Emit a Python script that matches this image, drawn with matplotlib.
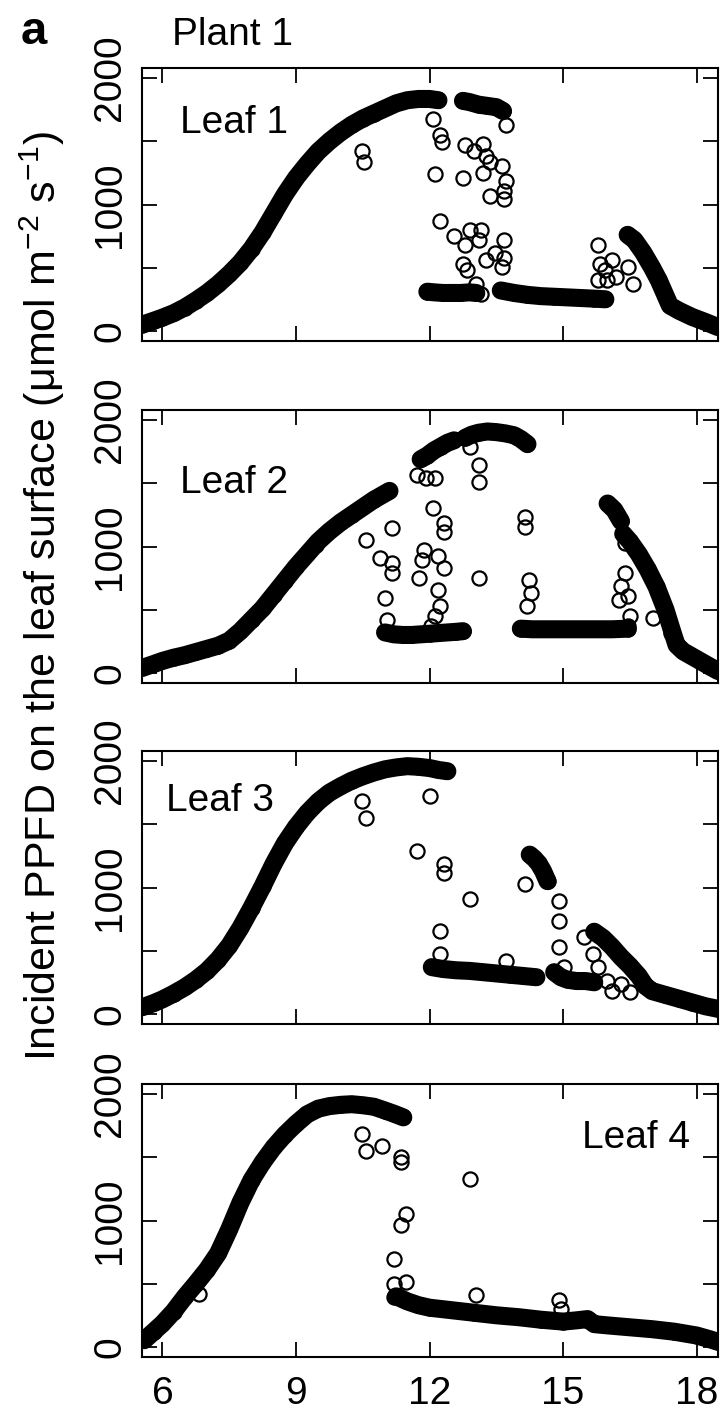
import numpy as np
import matplotlib
matplotlib.use("Agg")
import matplotlib.pyplot as plt

nan = np.nan

# ---- Leaf 1 ----
# dense runs of readings (nan separates runs)
leaf1_band_x = [5.55, 5.8, 6.0, 6.25, 6.5, 6.75, 7.0, 7.25, 7.5, 7.75, 8.0, 8.25, 8.5, 8.75,
                9.0, 9.25, 9.5, 9.75, 10.0, 10.25, 10.5, 10.75, 11.0, 11.25, 11.5, 11.75,
                12.0, 12.2, nan,
                12.75, 12.9, 13.1, 13.3, 13.5, 13.65, nan,
                11.95, 12.1, 12.3, 12.5, 12.7, 12.9, 13.05, nan,
                13.6, 13.9, 14.2, 14.5, 14.8, 15.1, 15.4, 15.7, 15.95, nan,
                16.45, 16.6, 16.8, 17.0, 17.15, 17.3, 17.4, 17.6, 17.9, 18.2, 18.48]
leaf1_band_y = [50, 80, 105, 140, 185, 240, 300, 370, 450, 540, 650, 780, 930, 1080,
                1210, 1320, 1420, 1500, 1570, 1630, 1680, 1720, 1760, 1800, 1825, 1835,
                1835, 1825, nan,
                1820, 1810, 1790, 1780, 1770, 1740, nan,
                310, 305, 300, 300, 300, 305, 300, nan,
                320, 300, 285, 275, 270, 265, 260, 255, 250, nan,
                760, 720, 620, 500, 400, 280, 200, 160, 110, 70, 30]
# isolated readings
leaf1_pts_x = [10.53, 10.48, 12.08, 12.23, 12.28, 12.13, 12.75, 12.80, 13.00, 13.21, 13.26,
               13.21, 13.36, 13.62, 13.72, 13.67, 13.36, 13.67, 12.23, 12.54, 12.90, 13.15,
               13.10, 12.80, 13.67, 13.46, 13.67, 13.26, 12.75, 12.85, 13.62, 13.05, 13.15,
               13.72, 15.78, 15.83, 15.94, 16.09, 15.99, 16.45, 16.56, 16.19, 15.78]
leaf1_pts_y = [1333, 1427, 1680, 1547, 1493, 1240, 1213, 1467, 1427, 1480, 1387,
               1253, 1333, 1307, 1187, 1107, 1067, 1040, 867, 747, 800, 800,
               720, 680, 720, 613, 573, 560, 533, 480, 507, 373, 293,
               1627, 680, 533, 480, 560, 400, 507, 373, 427, 400]

# ---- Leaf 2 ----
leaf2_band_x = [5.55, 5.8, 6.0, 6.25, 6.5, 6.75, 7.0, 7.25, 7.5, 7.75, 8.0, 8.25, 8.5, 8.75,
                9.0, 9.25, 9.5, 9.75, 10.0, 10.25, 10.5, 10.75, 11.0, 11.1, nan,
                11.8, 11.95, 12.1, 12.25, 12.4, 12.55, nan,
                12.8, 12.95, 13.1, 13.3, 13.5, 13.7, 13.9, 14.05, 14.2, nan,
                11.0, 11.2, 11.4, 11.6, 11.8, 12.0, 12.2, 12.4, 12.6, 12.75, nan,
                14.05, 14.3, 14.6, 14.9, 15.2, 15.5, 15.8, 16.1, 16.45, nan,
                16.0, 16.15, 16.3, nan,
                16.35, 16.5, 16.7, 16.9, 17.1, 17.3, 17.45, 17.55, 17.7, 17.9, 18.1, 18.3, 18.48]
leaf2_band_y = [40, 70, 95, 120, 140, 165, 190, 215, 255, 330, 420, 510, 620, 730,
                840, 940, 1040, 1120, 1190, 1250, 1310, 1370, 1420, 1440, nan,
                1690, 1720, 1760, 1790, 1820, 1840, nan,
                1860, 1885, 1900, 1910, 1905, 1895, 1880, 1850, 1810, nan,
                320, 305, 300, 300, 305, 310, 315, 320, 325, 330, nan,
                350, 345, 345, 345, 345, 345, 345, 345, 350, nan,
                1340, 1290, 1200, nan,
                1100, 1040, 940, 820, 680, 500, 330, 220, 170, 130, 90, 50, 15]
leaf2_pts_x = [9.45, 10.58, 11.15, 10.89, 11.15, 11.15, 10.99, 11.05, 11.72, 11.92, 12.13,
               12.08, 12.33, 12.33, 11.87, 11.82, 12.18, 12.33, 11.77, 12.18, 12.23, 12.13,
               12.03, 12.90, 13.11, 13.11, 13.11, 14.14, 14.14, 14.24, 14.29, 14.19, 16.40,
               16.40, 16.30, 16.25, 16.45, 16.50, 16.45, 17.02, 17.38, 17.43]
leaf2_pts_y = [1013, 1053, 1145, 908, 868, 789, 592, 421, 1566, 1539, 1539,
               1303, 1184, 1118, 974, 895, 921, 829, 750, 658, 526, 447,
               368, 1789, 1645, 1513, 750, 1237, 1158, 737, 632, 526, 1026,
               789, 684, 579, 605, 447, 368, 434, 395, 316]

# ---- Leaf 3 ----
leaf3_band_x = [5.55, 5.8, 6.0, 6.25, 6.5, 6.75, 7.0, 7.25, 7.5, 7.75, 8.0, 8.25, 8.5, 8.75,
                9.0, 9.25, 9.5, 9.75, 10.0, 10.25, 10.5, 10.75, 11.0, 11.25, 11.5, 11.75,
                12.0, 12.2, 12.4, nan,
                12.05, 12.3, 12.6, 12.9, 13.2, 13.5, 13.8, 14.1, 14.4, nan,
                14.25, 14.35, 14.45, 14.55, 14.65, nan,
                14.8, 14.95, 15.1, 15.3, 15.5, 15.7, nan,
                15.7, 15.9, 16.1, 16.3, 16.5, 16.7, 16.85, 17.0, 17.3, 17.6, 17.9, 18.2, 18.48]
leaf3_band_y = [53, 85, 115, 160, 210, 270, 340, 430, 540, 680, 840, 1010, 1190, 1350,
                1480, 1590, 1680, 1750, 1800, 1845, 1880, 1910, 1935, 1950, 1960, 1955,
                1945, 1930, 1920, nan,
                370, 355, 345, 340, 330, 320, 310, 300, 290, nan,
                1260, 1230, 1190, 1130, 1050, nan,
                330, 290, 270, 260, 260, 250, nan,
                650, 600, 530, 450, 380, 300, 220, 180, 150, 120, 90, 60, 40]
leaf3_pts_x = [10.48, 10.58, 12.02, 11.72, 12.33, 12.33, 12.90, 12.23, 12.23, 14.14, 13.72,
               14.91, 14.91, 14.91, 15.01, 15.47, 15.68, 15.78, 15.99, 16.09, 16.30, 16.50]
leaf3_pts_y = [1684, 1553, 1724, 1289, 1184, 1118, 908, 658, 474, 1026, 421,
               895, 737, 526, 368, 605, 474, 368, 263, 184, 237, 171]

# ---- Leaf 4 ----
leaf4_band_x = [5.59, 5.8, 6.0, 6.25, 6.5, 6.75, 7.0, 7.25, 7.5, 7.75, 8.0, 8.25, 8.5, 8.75,
                9.0, 9.25, 9.5, 9.75, 10.0, 10.25, 10.5, 10.75, 11.0, 11.2, 11.41, nan,
                11.25, 11.5, 11.75, 12.0, 12.5, 13.0, 13.5, 14.0, 14.5, 15.0, 15.3, 15.55,
                15.7, 16.0, 16.5, 17.0, 17.5, 18.0, 18.3, 18.48]
leaf4_band_y = [53, 120, 184, 280, 395, 500, 610, 740, 930, 1140, 1320, 1460, 1580, 1680,
                1765, 1840, 1885, 1905, 1915, 1920, 1912, 1900, 1870, 1845, 1816, nan,
                400, 360, 330, 310, 290, 270, 250, 235, 215, 200, 210, 220,
                180, 170, 155, 140, 120, 90, 60, 40]
leaf4_pts_x = [6.82, 10.48, 10.58, 10.94, 11.36, 11.36, 12.90, 11.46, 11.36, 11.20, 11.20,
               11.46, 11.20, 13.05, 14.91, 14.96]
leaf4_pts_y = [421, 1684, 1553, 1592, 1500, 1461, 1329, 1053, 961, 697, 500,
               513, 395, 408, 368, 303]

leaf_names = ["Leaf 1", "Leaf 2", "Leaf 3", "Leaf 4"]
x_ticks = [6, 9, 12, 15, 18]
y_ticks = [0, 500, 1000, 1500, 2000]
y_ticklabels = ["0", "", "1000", "", "2000"]

plt.rcParams["font.family"] = ["Liberation Sans", "DejaVu Sans"]
plt.rcParams["mathtext.fontset"] = "custom"
plt.rcParams["mathtext.rm"] = "Liberation Sans"
plt.rcParams["mathtext.default"] = "regular"

W, H = 721, 1418
fig = plt.figure(figsize=(W / 100, H / 100), dpi=100)

# panel boxes in pixels (top, bottom)
boxes = [(68, 341), (410, 683), (751, 1024), (1084, 1357)]
left_px, right_px = 142, 718

bands = [(leaf1_band_x, leaf1_band_y), (leaf2_band_x, leaf2_band_y),
         (leaf3_band_x, leaf3_band_y), (leaf4_band_x, leaf4_band_y)]
points = [(leaf1_pts_x, leaf1_pts_y), (leaf2_pts_x, leaf2_pts_y),
          (leaf3_pts_x, leaf3_pts_y), (leaf4_pts_x, leaf4_pts_y)]
# label placement (axes fraction): x, y, ha
label_pos = [(0.066, 0.763, "left"), (0.066, 0.696, "left"),
             (0.042, 0.782, "left"), (0.951, 0.766, "right")]

FS = 28
MS, MEW = 10.2, 1.6
for i, (top, bot) in enumerate(boxes):
    ax = fig.add_axes([left_px / W, 1 - bot / H, (right_px - left_px) / W, (bot - top) / H])
    bx, by = bands[i]
    ax.plot(bx, by, color="black", lw=13, solid_capstyle="round",
            solid_joinstyle="round", marker="o", ms=MS, mfc="none", mec="black", mew=MEW)
    px, py = points[i]
    ax.plot(px, py, linestyle="none", marker="o", ms=MS, mfc="none", mec="black", mew=MEW)

    ax.set_xlim(5.54, 18.48)
    ax.set_ylim(-80, 2080)
    ax.set_xticks(x_ticks)
    ax.set_yticks(y_ticks)
    ax.set_yticklabels(y_ticklabels, rotation=90, va="center", fontsize=FS)
    ax.tick_params(direction="in", length=11, width=1.3, top=True, right=True,
                   labelsize=FS)
    ax.tick_params(axis="y", pad=10)
    ax.tick_params(axis="x", pad=14)
    if i < 3:
        ax.set_xticklabels([])
    for s in ax.spines.values():
        s.set_linewidth(1.5)

    lx, ly, ha = label_pos[i]
    ax.text(lx, ly, leaf_names[i], transform=ax.transAxes, ha=ha, va="baseline",
            fontsize=FS)

fig.text(21 / W, 1 - 44 / H, "a", fontsize=34, fontweight="bold", va="baseline")
fig.text(172 / W, 1 - 45 / H, "Plant 1", fontsize=FS, va="baseline")
fig.text(42 / W, 1 - 596 / H,
         "Incident PPFD on the leaf surface (\u03bcmol m$^{-2}$ s$^{-1}$)",
         rotation=90, ha="center", va="center", fontsize=31)

fig.savefig("out.png", dpi=100, facecolor="white")
